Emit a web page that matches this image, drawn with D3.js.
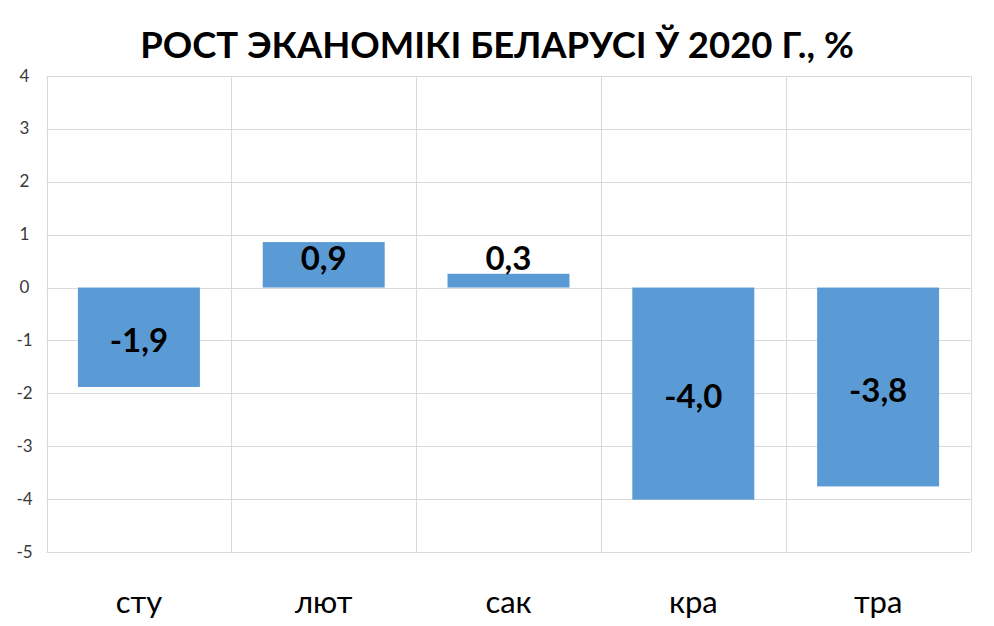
<!DOCTYPE html>
<html><head><meta charset="utf-8">
<script src="https://cdn.jsdelivr.net/npm/d3@7"></script>
<style>body{margin:0;background:#fff}svg{display:block}</style>
</head><body>
<svg id="c" width="994" height="626"></svg>
<script>
const title = "РОСТ ЭКАНОМІКІ БЕЛАРУСІ Ў 2020 Г., %";
const categories = ["сту", "лют", "сак", "кра", "тра"];
const values = [-1.88, 0.86, 0.26, -4.01, -3.76];
const yTicks = [4, 3, 2, 1, 0, -1, -2, -3, -4, -5];

(function () {
const svg = d3.select("#c");
const pLeft = 46.5, pRight = 970.5, pTop = 76, pBottom = 552;
const font = "Lato, 'Open Sans', sans-serif";

const x = d3.scaleBand().domain(categories).range([pLeft, pRight]).paddingInner(0.34).paddingOuter(0.17);
const y = d3.scaleLinear().domain([-5, 4]).range([pBottom, pTop]);

svg.append("text").attr("x", 497).attr("y", 58).attr("text-anchor", "middle")
  .attr("font-family", font).attr("font-weight", "bold").attr("font-size", 36.5).attr("fill", "#000")
  .text(title);

// horizontal grid
svg.append("g").selectAll("line").data(yTicks).join("line")
  .attr("x1", pLeft).attr("x2", pRight)
  .attr("y1", d => Math.round(y(d)) + 0.5).attr("y2", d => Math.round(y(d)) + 0.5)
  .attr("stroke", "#d9d9d9").attr("stroke-width", 1);

// vertical grid at band boundaries
const bounds = d3.range(categories.length + 1).map(i => pLeft + i * (pRight - pLeft) / categories.length);
svg.append("g").selectAll("line").data(bounds).join("line")
  .attr("x1", d => Math.round(d) + 0.5).attr("x2", d => Math.round(d) + 0.5)
  .attr("y1", pTop).attr("y2", pBottom)
  .attr("stroke", "#d9d9d9").attr("stroke-width", 1);

// y axis labels
const yAxis = d3.axisLeft(y).tickValues(yTicks).tickSize(0).tickPadding(0).tickFormat(d => String(d));
const ga = svg.append("g").attr("transform", `translate(${pLeft - 22},0)`).call(yAxis);
ga.select(".domain").remove();
ga.selectAll("text").attr("font-family", font).attr("font-size", 17).attr("fill", "#3a3a3a").attr("text-anchor", "middle").attr("dy", "0.3em");

// bars
svg.append("g").selectAll("rect").data(values).join("rect")
  .attr("x", (d, i) => x(categories[i]))
  .attr("width", x.bandwidth())
  .attr("y", d => y(Math.max(0, d)))
  .attr("height", d => Math.abs(y(d) - y(0)))
  .attr("fill", "#5b9bd5");

// data labels
const fmt = v => v.toFixed(1).replace(".", ",");
svg.append("g").selectAll("text").data(values).join("text")
  .attr("x", (d, i) => x(categories[i]) + x.bandwidth() / 2)
  .attr("y", d => d >= 0 ? y(0) - 29 : (y(0) + y(d)) / 2 + 3)
  .attr("dy", "0.35em").attr("text-anchor", "middle")
  .attr("font-family", font).attr("font-weight", "bold").attr("font-size", 33).attr("fill", "#000")
  .text(fmt);

// x axis labels
const xAxis = d3.axisBottom(x).tickSize(0).tickPadding(0);
const gx = svg.append("g").attr("transform", `translate(0,${pBottom})`).call(xAxis);
gx.select(".domain").remove();
gx.selectAll("text").attr("font-family", font).attr("font-size", 31).attr("fill", "#000").attr("dy", 0).attr("y", 61);
})();
</script>
</body></html>
